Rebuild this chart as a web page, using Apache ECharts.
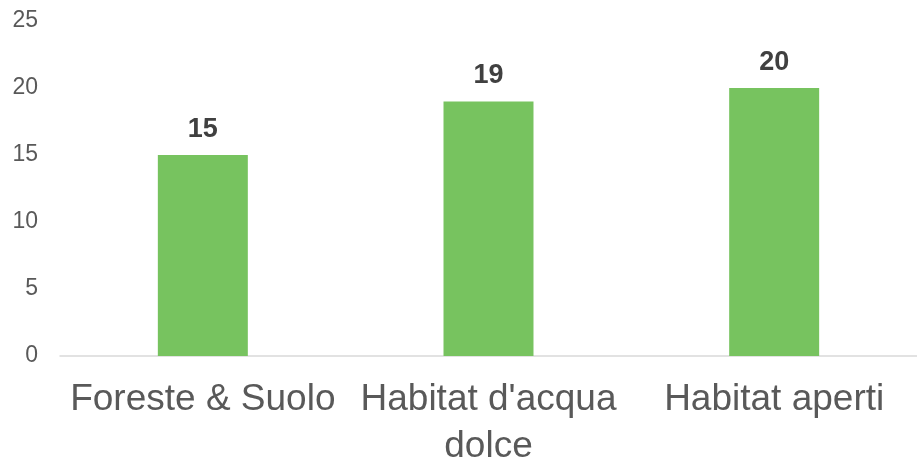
<!DOCTYPE html>
<html>
<head>
<meta charset="utf-8">
<script src="https://cdn.jsdelivr.net/npm/echarts@6/dist/echarts.min.js"></script>
<style>html,body{margin:0;padding:0;background:#fff}#c{width:917px;height:459px}</style>
</head>
<body>
<div id="c"></div>
<script>
const categories = ["Foreste & Suolo", "Habitat d'acqua\ndolce", "Habitat aperti"];
const values = [15, 19, 20];
const yTicks = [0, 5, 10, 15, 20, 25];

const chart = echarts.init(document.getElementById('c'));
chart.setOption({
  animation: false,
  textStyle: { fontFamily: '"Liberation Sans", Arial, sans-serif' },
  grid: { left: 60, right: 0, top: 21, bottom: 103, containLabel: false, outerBoundsMode: 'none' },
  xAxis: {
    type: 'category',
    data: categories,
    axisTick: { show: false },
    axisLine: { lineStyle: { color: '#d9d9d9', width: 1.5 } },
    axisLabel: { color: '#595959', fontSize: 37, lineHeight: 47, margin: 20, interval: 0 }
  },
  yAxis: {
    type: 'value',
    min: yTicks[0],
    max: yTicks[yTicks.length - 1],
    interval: 5,
    splitLine: { show: false },
    axisLine: { show: false },
    axisTick: { show: false },
    axisLabel: { color: '#595959', fontSize: 23, margin: 22 }
  },
  series: [{
    type: 'bar',
    data: values,
    barWidth: '31.5%',
    itemStyle: { color: '#77C35F' },
    label: { show: true, position: 'top', distance: 12, color: '#404040', fontSize: 27, fontWeight: 'bold' }
  }]
});
</script>
</body>
</html>
